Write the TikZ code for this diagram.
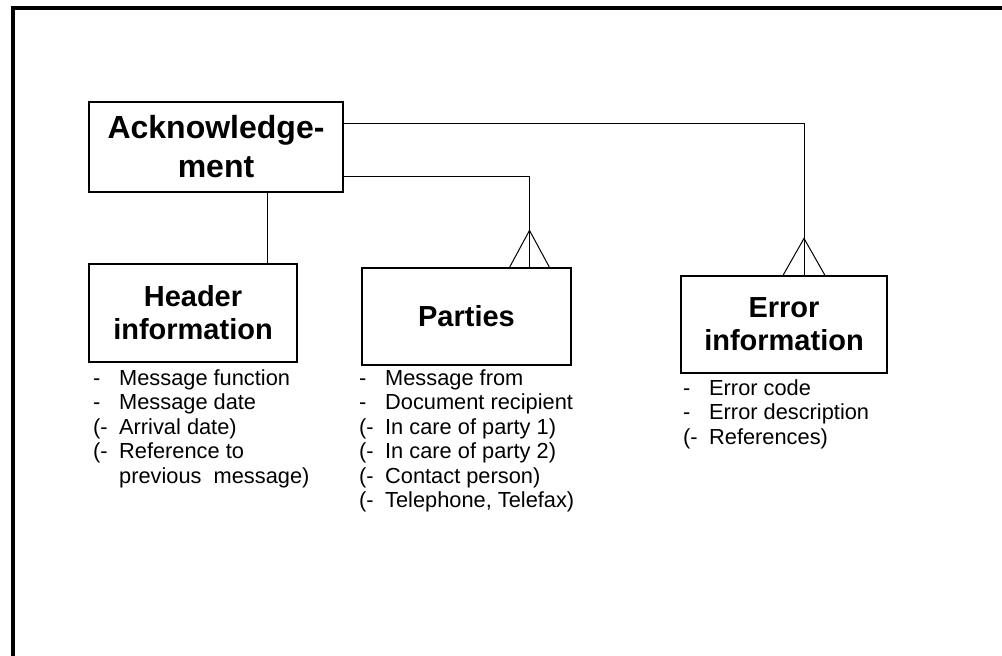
\documentclass[tikz,border=0pt]{standalone}
\usepackage{fontspec}
\setmainfont{Liberation Sans}
\begin{document}
\begin{tikzpicture}[x=1pt,y=-1pt,
  box/.style={draw, line width=1.2pt, rectangle, inner sep=0, align=center, font=\bfseries\fontsize{29}{33}\selectfont},
  conn/.style={draw, line width=1pt},
  list/.style={anchor=base west, inner sep=0, font=\fontsize{21.8}{24.5}\selectfont}]
\useasboundingbox (0,0) rectangle (1002,656);
\draw[line width=4pt] (13,656) -- (13,8) -- (1002,8);
% boxes
\node[box, minimum width=254, minimum height=90, font=\bfseries\fontsize{32}{39}\selectfont] (ack) at (216,147) {Acknowledge-\\ment};
\node[box, minimum width=208, minimum height=98] (hea) at (193,313) {Header\\information};
\node[box, minimum width=209, minimum height=97] (par) at (466.5,316.5) {Parties};
\node[box, minimum width=206, minimum height=97] (err) at (784,324.5) {Error\\information};
% lists
\node[list] (hl) at (93,385) {\begin{tabular}[t]{@{}p{26pt}@{}l@{}}-&Message function\\-&Message date\\(-&Arrival date)\\(-&Reference to\\&previous\ \ message)\end{tabular}};
\node[list] (pl) at (359,385) {\begin{tabular}[t]{@{}p{26pt}@{}l@{}}-&Message from\\-&Document recipient\\(-&In care of party 1)\\(-&In care of party 2)\\(-&Contact person)\\(-&Telephone, Telefax)\end{tabular}};
\node[list] (el) at (683,395) {\begin{tabular}[t]{@{}p{26pt}@{}l@{}}-&Error code\\-&Error description\\(-&References)\end{tabular}};
% connectors
\coordinate (hx) at (267,0);
\draw[conn] (ack.south -| hx) -- (hea.north -| hx);
\coordinate (pf) at ([xshift=63pt]par.north);
\coordinate (ef) at ([xshift=20pt]err.north);
\draw[conn] ([yshift=-75pt]ack.north east) -| (pf);
\draw[conn] ([yshift=-22pt]ack.north east) -| (ef);
\draw[conn] ([xshift=-20pt]pf) -- ([yshift=37pt]pf) -- ([xshift=20pt]pf);
\draw[conn] ([xshift=-21pt]ef) -- ([yshift=37pt]ef) -- ([xshift=21pt]ef);
\end{tikzpicture}
\end{document}
